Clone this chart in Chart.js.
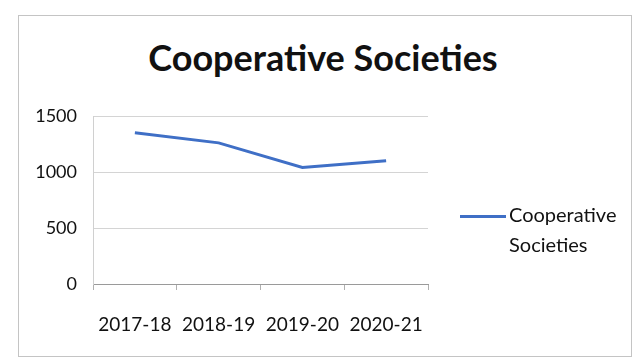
<!DOCTYPE html>
<html>
<head>
  <meta charset="UTF-8">
  <title>Cooperative Societies</title>
  <script src="https://cdn.jsdelivr.net/npm/chart.js@4/dist/chart.umd.min.js"></script>
  <style>
    html, body {
      margin: 0;
      padding: 0;
      background: #fff;
    }
    .wrap {
      position: relative;
      width: 637px;
      height: 364px;
      overflow: hidden;
    }
    .frame {
      position: absolute;
      left: 18px;
      top: 15px;
      width: 612px;
      height: 340px;
      border: 1px solid #c4c4c4;
    }
    h1 {
      position: absolute;
      left: 0;
      width: 646px;
      top: 35px;
      margin: 0;
      text-align: center;
      font-family: Lato, sans-serif;
      font-weight: bold;
      font-size: 36px;
      color: #111;
    }
    .legend {
      position: absolute;
      left: 460px;
      top: 199px;
      font-family: Lato, sans-serif;
      font-size: 20px;
      color: #111;
      line-height: 30px;
    }
    .legend .swatch {
      display: inline-block;
      width: 46px;
      height: 3px;
      background: #3f6fc6;
      vertical-align: middle;
      margin-right: 3px;
    }
    .legend .second {
      padding-left: 49px;
    }
    canvas {
      position: absolute;
      left: 0;
      top: 0;
    }
  </style>
</head>
<body>
<div class="wrap">
  <div class="frame"></div>
  <h1>Cooperative Societies</h1>
  <canvas id="chart" width="637" height="364"></canvas>
  <div class="legend">
    <div><span class="swatch"></span>Cooperative</div>
    <div class="second">Societies</div>
  </div>
</div>

<script>
const years = ["2017-18", "2018-19", "2019-20", "2020-21"];
const societies = [1350, 1260, 1040, 1100];
const yTicks = [0, 500, 1000, 1500];

new Chart(document.getElementById("chart"), {
  type: "line",
  data: {
    labels: years,
    datasets: [{
      label: "Cooperative Societies",
      data: societies,
      borderColor: "#3f6fc6",
      borderWidth: 3,
      pointRadius: 0,
      tension: 0
    }]
  },
  options: {
    responsive: false,
    animation: false,
    layout: {
      padding: { left: 0, right: 209, top: 116, bottom: 0 }
    },
    plugins: {
      legend: { display: false },
      tooltip: { enabled: false }
    },
    scales: {
      x: {
        offset: true,
        grid: {
          offset: true,
          drawOnChartArea: false,
          color: "#b0b0b0",
          tickLength: 6
        },
        border: { color: "#9a9a9a", width: 1 },
        ticks: {
          color: "#111",
          font: { family: "Lato", size: 19 },
          padding: 23,
          maxRotation: 0
        },
        afterFit(scale) { scale.height = 80; }
      },
      y: {
        min: 0,
        max: 1500,
        afterBuildTicks(scale) {
          scale.ticks = yTicks.map(v => ({ value: v }));
        },
        grid: { color: "#d4d4d4", tickLength: 0 },
        border: { color: "#d0d0d0", width: 1 },
        ticks: {
          color: "#111",
          font: { family: "Lato", size: 18 },
          padding: 16,
          callback: v => String(v)
        },
        afterFit(scale) { scale.width = 93; }
      }
    }
  }
});
</script>
</body>
</html>
